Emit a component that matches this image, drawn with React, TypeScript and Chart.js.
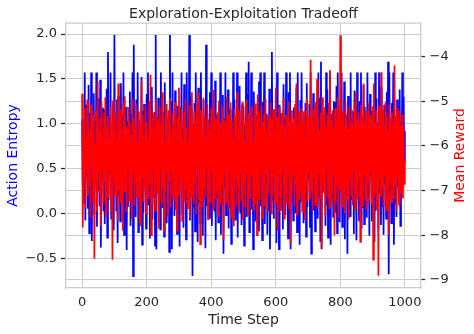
import { useEffect, useRef } from "react";
import { Chart, registerables } from "chart.js";

Chart.register(...registerables);

const TITLE = "Exploration-Exploitation Tradeoff";
const X_LABEL = "Time Step";
const Y_LABEL = "Action Entropy";
const Y1_LABEL = "Mean Reward";

const STEP = 2;

const entropy = [
  1.05, 0.3, 0.92, 0.12, 1.57, -0.08, 1.21, 0.41, 0.78, 0.05, 1.43, -0.22, 1.12, 0.33, 1.57, -0.31, 0.86, 0.18, 1.34, -0.02,
  1.02, 0.47, 1.57, -0.15, 0.74, 0.26, 1.28, 0.08, 1.49, -0.38, 0.95, 0.39, 1.18, 0.02, 1.16, -0.12, 0.81, 0.22, 1.39, -0.27,
  1.8, 0.15, 1.07, 0.44, 1.57, -0.06, 0.88, 0.29, 1.24, -0.19, 1.99, 0.36, 0.97, 0.03, 1.27, -0.33, 1.31, 0.21, 0.76, -0.09,
  1.45, 0.43, 1.09, 0.11, 1.57, -0.24, 0.83, 0.34, 1.19, -0.41, 1.03, 0.07, 0.93, 0.25, 1.36, -0.14, 1.11, 0.48, 1.57, -0.7,
  1.88, 0.19, 0.79, -0.04, 1.27, 0.37, 1.57, -0.21, 1.04, 0.14, 0.89, 0.42, 1.52, -0.35, 1.14, 0.01, 1.22, 0.28, 0.72, -0.17,
  1.33, 0.46, 1.57, 0.09, 0.98, -0.28, 1.22, 0.31, 1.41, -0.07, 0.85, 0.17, 1.13, -0.36, 1.99, -0.4, 1.06, 0.24, 1.29, 0.04,
  0.77, -0.18, 1.57, 0.38, 1.13, 0.06, 0.94, -0.26, 1.46, 0.45, 1.08, -0.11, 1.01, 0.2, 0.82, -0.43, 1.99, 0.13, 1.25, -0.4,
  1.57, 0.35, 0.91, -0.03, 1.37, 0.27, 1.08, -0.23, 1.2, 0.1, 0.75, -0.37, 1.18, 0.43, 1.57, 0.0, 0.96, -0.16, 1.44, 0.3,
  1.1, -0.29, 1.57, 0.16, 0.87, 0.4, 1.99, -0.08, 1.3, 0.23, 1.15, -0.7, 0.99, 0.07, 1.23, -0.2, 1.57, 0.36, 0.8, -0.32,
  1.4, 0.12, 1.15, -0.11, 1.57, 0.45, 0.73, -0.25, 1.26, 0.19, 1.03, -0.39, 1.88, 0.08, 1.12, 0.32, 0.9, -0.05, 1.35, 0.26,
  1.57, -0.14, 1.12, 0.41, 0.84, 0.02, 1.48, -0.3, 1.09, 0.18, 1.0, -0.1, 1.2, 0.34, 1.57, -0.24, 0.78, 0.11, 1.32, -0.45,
  1.05, 0.28, 1.57, -0.02, 0.92, 0.39, 1.38, -0.17, 1.14, 0.06, 1.17, -0.34, 0.86, 0.22, 1.57, 0.44, 1.27, -0.07, 0.95, 0.15,
  1.57, -0.27, 1.09, 0.33, 1.42, 0.01, 0.76, -0.13, 1.21, 0.25, 1.19, -0.36, 0.98, 0.4, 1.57, -0.04, 1.33, 0.17, 1.69, -0.21,
  0.88, 0.37, 1.57, 0.04, 1.14, -0.4, 1.36, 0.21, 0.8, -0.09, 1.1, 0.3, 1.02, -0.19, 1.47, 0.46, 1.57, 0.08, 0.93, -0.3,
  1.24, 0.19, 1.57, -0.12, 0.85, 0.35, 1.11, -0.24, 1.05, 0.03, 1.39, -0.4, 0.74, 0.27, 1.8, 0.12, 1.16, -0.06, 1.06, 0.42,
  1.3, -0.33, 1.57, 0.16, 0.97, -0.4, 1.21, 0.29, 1.12, 0.05, 0.82, -0.18, 1.44, 0.38, 1.07, -0.02, 1.57, 0.23, 0.9, -0.28,
  1.35, 0.1, 1.57, -0.4, 1.01, 0.32, 0.79, -0.08, 1.18, 0.44, 1.18, 0.0, 1.4, -0.21, 1.57, 0.26, 0.94, -0.35, 1.26, 0.13,
  1.57, 0.36, 0.87, -0.11, 1.13, 0.2, 1.23, -0.26, 1.45, 0.07, 0.76, 0.39, 1.22, -0.16, 1.57, -0.45, 0.99, 0.29, 1.34, 0.03,
  1.09, -0.2, 1.04, 0.34, 0.91, -0.06, 1.57, 0.18, 1.29, -0.31, 1.69, -0.4, 1.11, 0.24, 0.83, 0.43, 1.16, -0.14, 1.57, 0.09,
  1.38, -0.27, 0.95, 0.31, 1.57, -0.35, 1.11, 0.15, 0.78, -0.04, 1.25, 0.4, 1.24, 0.01, 1.42, -0.22, 1.57, 0.27, 0.89, -0.1,
  1.2, 0.37, 1.57, -0.15, 0.84, 0.08, 1.47, -0.29, 1.06, 0.21, 1.06, -0.45, 1.31, 0.33, 0.92, -0.03, 1.57, 0.16, 1.15, 0.45,
  1.13, -0.23, 1.37, 0.12, 0.81, -0.3, 1.57, 0.28, 1.09, -0.08, 1.25, 0.38, 1.57, -0.17, 0.97, 0.06, 1.43, -0.12, 1.19, 0.3,
  1.02, -0.05, 1.57, 0.19, 0.88, -0.25, 1.33, 0.41, 1.14, -0.09, 1.12, 0.14, 0.75, -0.32, 1.57, 0.03, 1.28, 0.35, 1.0, -0.18,
  1.57, 0.22, 1.17, -0.13, 1.41, 0.08, 0.86, -0.24, 1.21, 0.32, 1.05, -0.06, 1.35, 0.18, 1.69, -0.68, 1.57, 0.26, 0.94, -0.11,
  1.23, 0.39, 1.57, -0.35, 1.08, 0.11, 0.83, -0.04, 1.27, 0.29, 1.19, 0.13, 1.38, -0.14, 1.01, 0.33, 1.57, 0.47, 1.3, 0.58,
  0.92,
];

const reward = [
  -4.83, -7.83, -5.62, -6.71, -5.15, -7.38, -5.87, -6.52, -4.96, -7.12, -5.44, -6.88, -5.73, -7.61, -5.08, -6.45, -5.51, -7.24, -5.29, -8.53,
  -5.95, -6.93, -5.21, -7.47, -4.55, -6.6, -5.68, -7.05, -5.37, -7.79, -5.02, -6.49, -5.79, -7.31, -5.25, -6.82, -4.91, -7.56, -5.58, -6.67,
  -5.33, -7.18, -5.84, -6.56, -5.11, -7.42, -5.49, -8.55, -4.98, -6.77, -5.7, -7.09, -5.26, -6.44, -5.91, -7.66, -4.6, -6.98, -5.42, -7.27,
  -5.18, -6.62, -5.65, -7.9, -5.03, -7.01, -4.89, -6.74, -5.56, -7.49, -5.82, -6.51, -5.13, -7.22, -5.47, -6.9, -5.75, -7.63, -4.94, -6.58,
  -5.38, -7.35, -5.6, -6.84, -5.05, -7.14, -5.92, -6.47, -5.23, -7.71, -5.53, -7.8, -4.55, -6.69, -5.31, -7.26, -5.77, -6.95, -5.1, -7.52,
  -5.46, -6.63, -5.85, -7.19, -5.0, -6.86, -4.4, -8.0, -5.59, -7.33, -5.27, -6.54, -5.71, -7.45, -4.97, -6.79, -5.4, -7.07, -5.64, -7.85,
  -5.12, -6.48, -5.52, -7.29, -4.8, -6.92, -5.35, -7.9, -5.88, -7.02, -5.06, -6.61, -5.45, -7.58, -5.2, -6.76, -4.93, -7.36, -5.78, -6.53,
  -5.28, -7.17, -5.55, -6.89, -5.01, -7.44, -5.67, -7.9, -5.34, -6.57, -4.7, -7.11, -5.48, -6.83, -5.14, -7.68, -5.83, -6.46, -5.24, -7.25,
  -4.95, -6.97, -5.61, -7.4, -5.89, -6.59, -5.09, -7.62, -5.36, -7.13, -4.8, -6.7, -5.57, -7.3, -5.22, -6.81, -5.43, -7.53, -5.04, -6.5,
  -4.8, -7.21, -5.5, -8.2, -5.19, -6.64, -5.74, -7.37, -4.92, -6.94, -5.32, -7.15, -5.86, -6.49, -5.07, -7.64, -5.41, -6.87, -5.63, -7.28,
  -5.16, -6.55, -5.53, -7.41, -4.75, -6.78, -5.39, -7.2, -5.8, -6.99, -5.25, -7.57, -4.99, -6.66, -5.47, -7.32, -5.69, -6.85, -5.11, -8.1,
  -5.42, -6.6, -5.66, -7.27, -4.9, -6.95, -5.3, -7.43, -5.76, -6.52, -5.03, -7.6, -5.45, -7.16, -5.81, -7.8, -5.17, -6.73, -5.35, -7.34,
  -4.8, -6.91, -5.58, -7.46, -5.21, -6.58, -5.72, -7.23, -5.02, -7.65, -5.37, -6.8, -5.9, -7.38, -4.96, -6.63, -5.44, -7.55, -5.27, -6.97,
  -5.54, -7.19, -5.13, -6.68, -5.33, -7.42, -5.85, -6.9, -5.05, -7.3, -5.48, -8.0, -4.85, -6.75, -5.23, -7.21, -5.6, -6.56, -5.1, -7.62,
  -5.46, -6.83, -5.28, -7.35, -4.95, -6.61, -5.7, -7.48, -5.34, -7.06, -5.79, -6.5, -5.04, -7.52, -5.41, -7.14, -5.19, -6.72, -5.62, -7.29,
  -4.7, -6.88, -5.36, -7.9, -5.64, -6.62, -5.12, -7.44, -5.49, -7.18, -5.26, -6.54, -4.92, -7.63, -5.57, -6.93, -5.31, -7.31, -5.83, -6.69,
  -5.01, -7.4, -5.44, -8.2, -5.2, -7.08, -5.73, -6.59, -5.38, -7.34, -5.06, -6.86, -4.6, -7.54, -5.52, -6.71, -5.24, -7.22, -5.68, -7.03,
  -5.14, -7.47, -5.47, -6.64, -5.22, -7.66, -5.77, -6.92, -4.94, -7.26, -5.33, -6.57, -5.61, -7.2, -4.07, -6.99, -5.43, -7.45, -5.18, -6.74,
  -5.59, -7.32, -5.02, -6.81, -4.5, -7.41, -5.35, -6.6, -5.66, -7.17, -5.25, -8.3, -4.91, -6.89, -5.45, -7.04, -5.13, -7.58, -5.55, -6.53,
  -5.3, -7.13, -5.04, -7.39, -4.3, -6.77, -5.42, -7.28, -5.21, -6.63, -5.58, -8.0, -5.15, -7.24, -5.4, -6.84, -4.93, -7.61, -5.32, -6.97,
  -3.52, -7.0, -5.45, -7.36, -5.23, -6.65, -5.56, -7.51, -5.03, -6.94, -5.29, -7.22, -5.63, -7.64, -5.12, -6.7, -5.48, -7.1, -5.2, -7.33,
  -5.55, -6.58, -5.01, -7.42, -4.8, -6.96, -5.41, -7.19, -5.24, -6.73, -5.51, -8.15, -5.09, -7.05, -5.34, -7.37, -4.6, -6.62, -5.44, -7.21,
  -5.22, -7.43, -5.57, -6.79, -5.04, -7.25, -5.31, -6.55, -5.42, -7.3, -5.11, -8.55, -4.6, -6.82, -5.46, -7.09, -5.2, -7.4, -5.53, -8.91,
  -5.1, -6.75, -5.41, -7.14, -4.35, -6.93, -5.19, -7.35, -5.54, -6.68, -5.02, -7.44, -5.31, -7.01, -5.65, -8.0, -5.08, -6.78, -5.38, -7.27,
  -5.25, -6.64, -5.52, -7.2, -4.2, -6.9, -5.33, -7.46, -5.14, -6.71, -5.43, -7.32, -5.22, -7.06, -5.55, -6.6, -5.3, -7.18, -5.6, -6.85,
  -6.3,
];

const xTicks = [0, 200, 400, 600, 800, 1000];
const entropyTicks = [-0.5, 0.0, 0.5, 1.0, 1.5, 2.0];
const rewardTicks = [-9, -8, -7, -6, -5, -4];

const X_MIN = -50;
const X_MAX = 1050;
const Y_MIN = -0.833;
const Y_MAX = 2.123;
const Y1_MIN = -9.184;
const Y1_MAX = -3.247;

const FONT_FAMILY = "'DejaVu Sans', sans-serif";
const TEXT = "#262626";
const GRID = "#cccccc";

const minus = (s: string) => s.replace("-", "\u2212");

const textPlugin = {
  id: "texts",
  beforeDatasetsDraw(chart: any) {
    const { ctx, chartArea: a } = chart;
    ctx.save();
    ctx.strokeStyle = GRID;
    ctx.lineWidth = 1.25;
    ctx.beginPath();
    ctx.moveTo(a.left, a.top);
    ctx.lineTo(a.right, a.top);
    ctx.stroke();
    ctx.restore();
  },
  afterDraw(chart: any) {
    const { ctx, chartArea: a } = chart;
    const cx = (a.left + a.right) / 2;
    const cy = (a.top + a.bottom) / 2;
    ctx.save();
    ctx.font = `14px ${FONT_FAMILY}`;
    ctx.textAlign = "center";
    ctx.textBaseline = "alphabetic";
    ctx.fillStyle = TEXT;
    ctx.fillText(TITLE, cx, 17.6);
    ctx.fillText(X_LABEL, cx, 323.6);
    ctx.save();
    ctx.translate(16.9, cy);
    ctx.rotate(-Math.PI / 2);
    ctx.fillStyle = "#0000ff";
    ctx.fillText(Y_LABEL, 0, 0);
    ctx.restore();
    ctx.save();
    ctx.translate(463.6, cy);
    ctx.rotate(-Math.PI / 2);
    ctx.fillStyle = "#ff0000";
    ctx.fillText(Y1_LABEL, 0, 0);
    ctx.restore();
    ctx.restore();
  },
};

export default function App() {
  const ref = useRef<HTMLCanvasElement | null>(null);

  useEffect(() => {
    if (!ref.current) return;
    const tickFont = { family: FONT_FAMILY, size: 13 };
    const chart = new Chart(ref.current, {
      type: "line",
      data: {
        datasets: [
          {
            label: Y1_LABEL,
            data: reward.map((v, i) => ({ x: i * STEP, y: v })),
            yAxisID: "y1",
            borderColor: "#ff0000",
            borderWidth: 1.75,
            pointRadius: 0,
            tension: 0,
            fill: false,
          },
          {
            label: Y_LABEL,
            data: entropy.map((v, i) => ({ x: i * STEP, y: v })),
            yAxisID: "y",
            borderColor: "#0000ff",
            borderWidth: 1.75,
            pointRadius: 0,
            tension: 0,
            fill: false,
          },
        ],
      },
      options: {
        responsive: false,
        animation: false,
        events: [],
        layout: { padding: { top: 23, left: 0, right: 0, bottom: 0 } },
        plugins: {
          legend: { display: false },
          tooltip: { enabled: false },
          title: { display: false },
        },
        scales: {
          x: {
            type: "linear",
            min: X_MIN,
            max: X_MAX,
            afterBuildTicks: (s: any) => {
              s.ticks = xTicks.map((v) => ({ value: v }));
            },
            afterFit: (s: any) => {
              s.height = 46;
              s.paddingLeft = 0;
              s.paddingRight = 0;
              s.paddingTop = 0;
              s.paddingBottom = 0;
            },
            grid: { color: GRID, lineWidth: 1, drawTicks: false },
            border: { color: GRID, width: 1.25 },
            ticks: {
              color: TEXT,
              font: tickFont,
              padding: 6.5,
              maxRotation: 0,
              autoSkip: false,
              callback: (v: any) => String(v),
            },
          },
          y: {
            type: "linear",
            position: "left",
            min: Y_MIN,
            max: Y_MAX,
            afterBuildTicks: (s: any) => {
              s.ticks = entropyTicks.map((v) => ({ value: v }));
            },
            afterFit: (s: any) => {
              s.width = 66;
              s.paddingLeft = 0;
              s.paddingRight = 0;
              s.paddingTop = 0;
              s.paddingBottom = 0;
            },
            grid: {
              color: GRID,
              lineWidth: 1,
              drawTicks: true,
              tickLength: 5,
              tickColor: TEXT,
              tickWidth: 1.25,
            },
            border: { color: GRID, width: 1.25 },
            ticks: {
              color: TEXT,
              font: tickFont,
              padding: 4,
              autoSkip: false,
              callback: (v: any) => minus(Number(v).toFixed(1)),
            },
          },
          y1: {
            type: "linear",
            position: "right",
            min: Y1_MIN,
            max: Y1_MAX,
            afterBuildTicks: (s: any) => {
              s.ticks = rewardTicks.map((v) => ({ value: v }));
            },
            afterFit: (s: any) => {
              s.width = 53;
              s.paddingLeft = 0;
              s.paddingRight = 0;
              s.paddingTop = 0;
              s.paddingBottom = 0;
            },
            grid: {
              color: GRID,
              lineWidth: 1,
              drawTicks: true,
              tickLength: 4,
              tickColor: TEXT,
              tickWidth: 1.25,
            },
            border: { color: GRID, width: 1.25 },
            ticks: {
              color: TEXT,
              font: tickFont,
              padding: 4.5,
              autoSkip: false,
              callback: (v: any) => minus(String(v)),
            },
          },
        },
      },
      plugins: [textPlugin],
    });
    return () => chart.destroy();
  }, []);

  return (
    <div style={{ position: "fixed", left: 0, top: 0, width: 474, height: 334, background: "#ffffff" }}>
      <canvas ref={ref} width={474} height={334} style={{ display: "block", width: 474, height: 334 }} />
    </div>
  );
}
